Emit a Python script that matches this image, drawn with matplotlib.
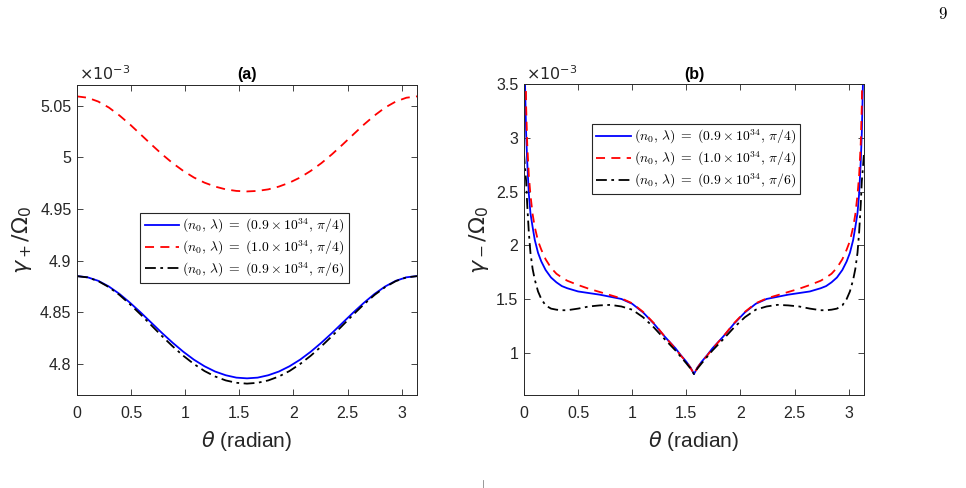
import numpy as np
import matplotlib
matplotlib.use('Agg')
import matplotlib.pyplot as plt
from matplotlib.font_manager import FontProperties
from matplotlib.lines import Line2D

plt.rcParams['font.family'] = ['Liberation Sans', 'DejaVu Sans']
plt.rcParams['mathtext.fontset'] = 'dejavusans'

# ---- panel (a): gamma_+/Omega_0 (units of 1e-3), theta = k*pi/32, k = 0..32
theta_a = np.linspace(0, np.pi, 33)
gp_n09_pi4 = [4.8851, 4.8839, 4.8805, 4.8750, 4.8678, 4.8592, 4.8498, 4.8399, 4.8300,
              4.8206, 4.8119, 4.8042, 4.7978, 4.7927, 4.7891, 4.7868, 4.7861,
              4.7868, 4.7891, 4.7927, 4.7978, 4.8042, 4.8119, 4.8206, 4.8300,
              4.8399, 4.8498, 4.8592, 4.8678, 4.8750, 4.8805, 4.8839, 4.8851]
gp_n10_pi4 = [5.0590, 5.0577, 5.0540, 5.0482, 5.0405, 5.0317, 5.0221, 5.0124, 5.0030,
              4.9944, 4.9869, 4.9805, 4.9755, 4.9717, 4.9690, 4.9675, 4.9670,
              4.9675, 4.9690, 4.9717, 4.9755, 4.9805, 4.9869, 4.9944, 5.0030,
              5.0124, 5.0221, 5.0317, 5.0405, 5.0482, 5.0540, 5.0577, 5.0590]
gp_n09_pi6 = [4.8850, 4.8838, 4.8802, 4.8744, 4.8668, 4.8577, 4.8478, 4.8374, 4.8270,
              4.8171, 4.8080, 4.8000, 4.7932, 4.7879, 4.7841, 4.7818, 4.7810,
              4.7818, 4.7841, 4.7879, 4.7932, 4.8000, 4.8080, 4.8171, 4.8270,
              4.8374, 4.8478, 4.8577, 4.8668, 4.8744, 4.8802, 4.8838, 4.8850]

# ---- panel (b): gamma_-/Omega_0 (units of 1e-3)
theta_b = [0, 0.01, 0.02, 0.03, 0.045, 0.06, 0.08, 0.1, 0.13, 0.16, 0.2, 0.25, 0.3, 0.35,
           0.4, 0.5, 0.6, 0.7, 0.8, 0.9, 1.0, 1.1, 1.2, 1.3, 1.4, 1.45, 1.5, 1.54, 1.5708,
           1.6016, 1.6416, 1.6916, 1.7416, 1.8416, 1.9416, 2.0416, 2.1416, 2.2416, 2.3416,
           2.4416, 2.5416, 2.6416, 2.7416, 2.7916, 2.8416, 2.8916, 2.9416, 2.9816, 3.0116,
           3.0416, 3.0616, 3.0816, 3.0966, 3.1116, 3.1216, 3.1316, 3.1416]
gm_n09_pi4 = [4.60, 3.50, 3.05, 2.78, 2.48, 2.30, 2.17, 2.05, 1.93, 1.85, 1.77, 1.70, 1.655,
              1.62, 1.60, 1.57, 1.555, 1.54, 1.52, 1.50, 1.455, 1.375, 1.27, 1.15, 1.04,
              0.975, 0.915, 0.86, 0.80,
              0.86, 0.915, 0.975, 1.04, 1.15, 1.27, 1.375, 1.455, 1.50, 1.52, 1.54, 1.555,
              1.57, 1.60, 1.62, 1.655, 1.70, 1.77, 1.85, 1.93, 2.05, 2.17, 2.30, 2.48,
              2.78, 3.05, 3.50, 4.60]
gm_n10_pi4 = [6.00, 4.20, 3.30, 2.95, 2.65, 2.47, 2.29, 2.17, 2.04, 1.96, 1.87, 1.79, 1.735,
              1.70, 1.67, 1.63, 1.595, 1.565, 1.535, 1.505, 1.46, 1.38, 1.275, 1.15, 1.035,
              0.97, 0.915, 0.855, 0.80,
              0.855, 0.915, 0.97, 1.035, 1.15, 1.275, 1.38, 1.46, 1.505, 1.535, 1.565,
              1.595, 1.63, 1.67, 1.70, 1.735, 1.79, 1.87, 1.96, 2.04, 2.17, 2.29, 2.47,
              2.65, 2.95, 3.30, 4.20, 6.00]
gm_n09_pi6 = [2.86, 2.72, 2.60, 2.38, 2.12, 1.93, 1.78, 1.68, 1.57, 1.50, 1.44, 1.41, 1.40,
              1.395, 1.395, 1.41, 1.43, 1.44, 1.445, 1.43, 1.40, 1.33, 1.235, 1.125, 1.02,
              0.96, 0.90, 0.85, 0.80,
              0.85, 0.90, 0.96, 1.02, 1.125, 1.235, 1.33, 1.40, 1.43, 1.445, 1.44, 1.43,
              1.41, 1.395, 1.395, 1.40, 1.41, 1.44, 1.50, 1.57, 1.68, 1.78, 1.93, 2.12,
              2.38, 2.60, 2.72, 2.86]

leg_labels = [r'$(n_0,\,\lambda)\;=\;(0.9\times10^{34},\,\pi/4)$',
              r'$(n_0,\,\lambda)\;=\;(1.0\times10^{34},\,\pi/4)$',
              r'$(n_0,\,\lambda)\;=\;(0.9\times10^{34},\,\pi/6)$']
xticks = [0, 0.5, 1, 1.5, 2, 2.5, 3]
yticks_a = [4.8, 4.85, 4.9, 4.95, 5.0, 5.05]
yticks_b = [1, 1.5, 2, 2.5, 3, 3.5]

dark = '#262626'
fig = plt.figure(figsize=(9.66, 4.88), dpi=100)
ax1 = fig.add_axes([0.0797, 0.1906, 0.352, 0.6352])
ax2 = fig.add_axes([0.5424, 0.1906, 0.352, 0.6365])

def style(ax, yticks, ylab, title, labx):
    ax.set_xlim(0, np.pi)
    ax.set_xticks(xticks)
    ax.set_xticklabels(['%g' % t for t in xticks])
    ax.set_yticks(yticks)
    ax.set_yticklabels(['%g' % t for t in yticks])
    ax.tick_params(direction='in', top=True, right=True, length=4, width=0.6,
                   colors=dark, labelsize=11.5, pad=4)
    ax.tick_params(axis='x', pad=8)
    for s in ax.spines.values():
        s.set_color(dark)
        s.set_linewidth(0.7)
    ax.set_xlabel(r'$\theta$ (radian)', fontsize=15, color=dark, labelpad=6)
    ax.set_ylabel(ylab, fontsize=16, color=dark)
    ax.yaxis.set_label_coords(labx, 0.5)
    ax.set_title(title, fontsize=11.5, fontweight='bold', pad=4)
    ax.text(0.005, 1.005, r'$\times10^{-3}$', transform=ax.transAxes, fontsize=11.5,
            color=dark, ha='left', va='bottom')

legfont = FontProperties(size=9.9, math_fontfamily='cm')
dash_r = (0, (5, 3.5))
dashdot_k = (0, (6, 2.5, 1.5, 2.5))
legkw = dict(prop=legfont, loc='center', fancybox=False, edgecolor=dark, framealpha=1,
             handlelength=2.5, handletextpad=0.25, borderpad=0.3, labelspacing=0.25,
             borderaxespad=0)

ax1.plot(theta_a, gp_n09_pi4, color='#0000ff', lw=1.3, label=leg_labels[0])
ax1.plot(theta_a, gp_n10_pi4, color='#ff0000', lw=1.3, ls=dash_r, label=leg_labels[1])
ax1.plot(theta_a, gp_n09_pi6, color='black', lw=1.3, ls=dashdot_k, label=leg_labels[2])
ax1.set_ylim(4.770, 5.070)
style(ax1, yticks_a, r'$\gamma_+/\Omega_0$', '(a)', -0.125)
l1 = ax1.legend(bbox_to_anchor=(0.4926, 0.475), **legkw)
l1.get_frame().set_linewidth(0.8)

ax2.plot(theta_b, gm_n09_pi4, color='#0000ff', lw=1.3, label=leg_labels[0])
ax2.plot(theta_b, gm_n10_pi4, color='#ff0000', lw=1.3, ls=dash_r, label=leg_labels[1])
ax2.plot(theta_b, gm_n09_pi6, color='black', lw=1.3, ls=dashdot_k, label=leg_labels[2])
ax2.set_ylim(0.605, 3.5)
style(ax2, yticks_b, r'$\gamma_-/\Omega_0$', '(b)', -0.097)
l2 = ax2.legend(bbox_to_anchor=(0.507, 0.7605), **legkw)
l2.get_frame().set_linewidth(0.8)

# page number and small mark at the bottom
fig.text(943 / 966, 1 - 14 / 488, r'$9$', fontsize=12, math_fontfamily='cm',
         ha='center', va='center')
fig.add_artist(Line2D([483 / 966, 483 / 966], [0.0, 8 / 488], color='#888888', lw=0.6))

fig.savefig('out.png', dpi=100)
